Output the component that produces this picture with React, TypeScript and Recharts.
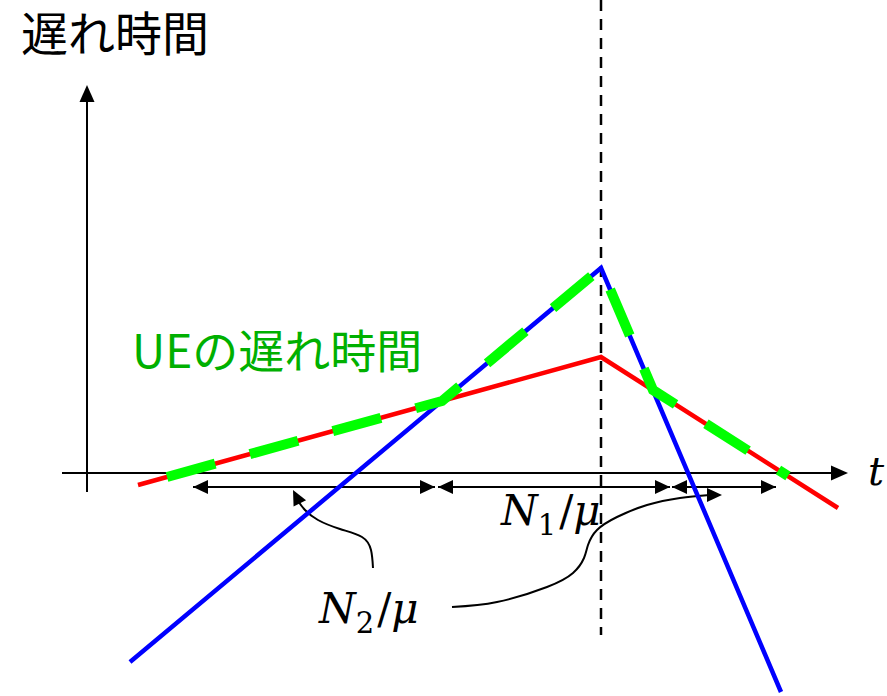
import React from 'react';
import { ComposedChart, Line, Scatter, XAxis, YAxis } from 'recharts';

// Horizontal: time t (diagram units). Vertical: delay (0 on the t axis).
const redT = [138, 601, 838];
const redDelay = [-12, 116, -35];
const blueT = [130, 601, 781];
const blueDelay = [-189, 205, -219];
const ueT = [167, 442, 601, 653, 788];
const ueDelay = [-4, 72, 205, 83, -3];

const peakT = 601;
const peakLineDelay = [473, -162];

const tAxisT = [62, 840];
const delayAxisT = 87;
const delayAxisDelay = [-19, 380];

const spanStartT = [193, 438, 672];
const spanEndT = [435, 670, 776];
const spanDelay = -14;

const n2CurveT = [373, 371, 362, 340, 318, 305, 298];
const n2CurveDelay = [-95, -77, -64, -56, -47, -37, -28];
const n1CurveT = [452, 497, 547, 573, 584, 588, 597, 617, 647, 680, 710];
const n1CurveDelay = [-134, -129, -114, -100, -85, -72, -57, -44, -32, -25, -22];

const arrowTipT = [193, 435, 438, 670, 672, 776, 722, 293];
const arrowTipDelay = [-14, -14, -14, -14, -14, -14, -22, -17];
const arrowAngle = [180, 0, 180, 0, 180, 0, 0, -117];

const axisTipT = [848, 87];
const axisTipDelay = [0, 388];
const axisTipAngle = [0, -90];

const labelText = ['遅れ時間', 'UEの遅れ時間', 'N1/μ', 'N2/μ', 't'];
const labelT = [21, 132, 501, 319, 868];
const labelDelay = [422, 105, -52, -150, -12];
const labelKind = ['title', 'ue', 'math', 'math', 'var'];

const zip = (xs: number[], ys: number[]) => xs.map((x, i) => ({ x, y: ys[i] }));

const redData = zip(redT, redDelay);
const blueData = zip(blueT, blueDelay);
const ueData = zip(ueT, ueDelay);
const peakData = zip([peakT, peakT], peakLineDelay);
const tAxisData = zip(tAxisT, [0, 0]);
const delayAxisData = zip([delayAxisT, delayAxisT], delayAxisDelay);
const spanData = spanStartT.map((s, i) => zip([s, spanEndT[i]], [spanDelay, spanDelay]));
const n2Data = zip(n2CurveT, n2CurveDelay);
const n1Data = zip(n1CurveT, n1CurveDelay);
const arrowData = arrowTipT.map((x, i) => ({ x, y: arrowTipDelay[i], angle: arrowAngle[i] }));
const axisTipData = axisTipT.map((x, i) => ({ x, y: axisTipDelay[i], angle: axisTipAngle[i] }));
const labelData = labelT.map((x, i) => ({ x, y: labelDelay[i], text: labelText[i], kind: labelKind[i] }));

const makeHead = (L: number, Wd: number) => (props: any) => {
  const { cx, cy, payload } = props;
  if (cx == null || cy == null) return <g />;
  return (
    <polygon
      points={`0,0 ${-L},${-Wd / 2} ${-L},${Wd / 2}`}
      transform={`translate(${cx},${cy}) rotate(${payload.angle})`}
      fill="#000"
    />
  );
};
const SpanHead = makeHead(15, 14);
const AxisHead = makeHead(17, 15);

const mathFont = '"DejaVu Serif", serif';
const jpFont = '"Noto Sans CJK JP", sans-serif';

const LabelShape = (props: any) => {
  const { cx, cy, payload } = props;
  if (cx == null || cy == null) return <g />;
  const { text, kind } = payload;
  if (kind === 'title') {
    return <text x={cx} y={cy} fontFamily={jpFont} fontSize={47} fill="#000">{text}</text>;
  }
  if (kind === 'ue') {
    return <text x={cx} y={cy} fontFamily={jpFont} fontSize={46} fill="#00b000">{text}</text>;
  }
  if (kind === 'var') {
    return <text x={cx} y={cy} fontFamily={mathFont} fontStyle="italic" fontSize={40} fill="#000">{text}</text>;
  }
  const [head, tail] = text.split('/');
  return (
    <text x={cx} y={cy} fontFamily={mathFont} fontSize={42} fill="#000">
      <tspan fontStyle="italic">{head[0]}</tspan>
      <tspan fontSize={29} dy={10}>{head.slice(1)}</tspan>
      <tspan dy={-10} dx={3}>/</tspan>
      <tspan fontStyle="italic">{tail}</tspan>
    </text>
  );
};

const blackLine = (data: any[], key: string, extra: any = {}) => (
  <Line
    key={key}
    data={data}
    dataKey="y"
    type="linear"
    stroke="#000"
    strokeWidth={2}
    dot={false}
    activeDot={false}
    isAnimationActive={false}
    {...extra}
  />
);

export default function App() {
  return (
    <div style={{ position: 'absolute', left: 0, top: 0, width: 887, height: 696, background: '#fff' }}>
      <ComposedChart width={887} height={696} margin={{ top: 0, right: 0, bottom: 0, left: 0 }}>
        <XAxis dataKey="x" type="number" domain={[0, 887]} hide height={0} allowDataOverflow />
        <YAxis dataKey="y" type="number" domain={[-223, 473]} hide width={0} allowDataOverflow />
        {blackLine(tAxisData, 'tax')}
        {blackLine(delayAxisData, 'dax')}
        {spanData.map((d, i) => blackLine(d, 'span' + i))}
        {blackLine(peakData, 'peak', { strokeDasharray: '11 8', strokeWidth: 2.5 })}
        {blackLine(n2Data, 'n2', { type: 'natural' })}
        {blackLine(n1Data, 'n1', { type: 'natural' })}
        <Scatter data={arrowData} dataKey="y" shape={SpanHead} isAnimationActive={false} />
        <Scatter data={axisTipData} dataKey="y" shape={AxisHead} isAnimationActive={false} />
        <Line data={redData} dataKey="y" type="linear" stroke="#ff0000" strokeWidth={4.5} dot={false} activeDot={false} isAnimationActive={false} />
        <Line data={blueData} dataKey="y" type="linear" stroke="#0000ff" strokeWidth={4.5} dot={false} activeDot={false} isAnimationActive={false} />
        <Line data={ueData} dataKey="y" type="linear" stroke="#00ff00" strokeWidth={10} strokeDasharray="50 36" dot={false} activeDot={false} isAnimationActive={false} />
        <Scatter data={labelData} dataKey="y" shape={LabelShape} isAnimationActive={false} />
      </ComposedChart>
    </div>
  );
}
